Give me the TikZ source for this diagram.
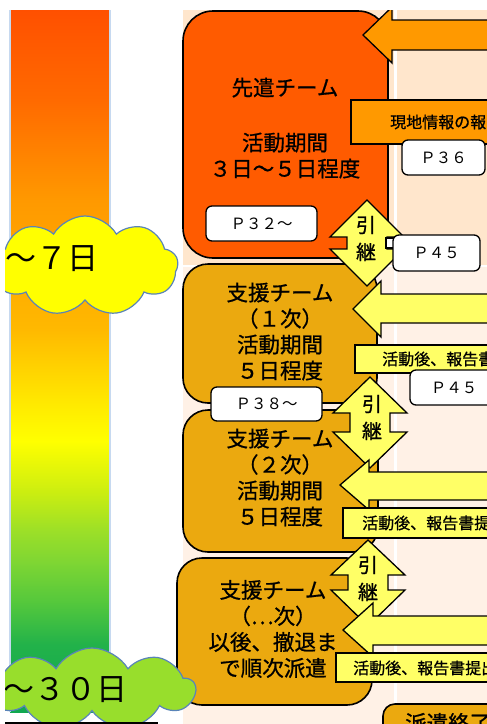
\documentclass[tikz,border=0pt]{standalone}
\usepackage{fontspec}
\setmainfont{Noto Sans CJK JP}
\newfontfamily\jpheavy{Noto Sans CJK JP}[FakeBold=0.8]
\usetikzlibrary{shapes.symbols}
\definecolor{peachtop}{HTML}{FFE6CC}
\definecolor{peachlow}{HTML}{FFF1E6}
\definecolor{redorange}{HTML}{FF5B00}
\definecolor{golden}{HTML}{EBA90F}
\definecolor{arroworange}{HTML}{FF9900}
\definecolor{paleyellow}{HTML}{FFFF66}
\definecolor{cloudyellow}{HTML}{FFFF00}
\definecolor{cloudgreen}{HTML}{98DE2C}
\definecolor{cloudedge}{HTML}{5A84B8}
\definecolor{baredge}{HTML}{C6D9F0}
\definecolor{gA}{HTML}{FF5000}
\definecolor{gB}{HTML}{FF6A00}
\definecolor{gC}{HTML}{FF9900}
\definecolor{gD}{HTML}{FFB800}
\definecolor{gE}{HTML}{FFE800}
\definecolor{gF}{HTML}{FFFF00}
\definecolor{gG}{HTML}{CCEE10}
\definecolor{gH}{HTML}{9BDF28}
\definecolor{gI}{HTML}{7FD633}
\definecolor{gJ}{HTML}{55C83C}
\definecolor{gK}{HTML}{22B24A}
\definecolor{gL}{HTML}{10A850}
\pgfdeclareverticalshading{timebar}{100bp}{color(0bp)=(gL); color(25bp)=(gL); color(29.79bp)=(gK); color(32.86bp)=(gJ); color(35.71bp)=(gI); color(37.86bp)=(gH); color(40.71bp)=(gG); color(44.29bp)=(gF); color(47.14bp)=(gE); color(52.36bp)=(gD); color(61.43bp)=(gC); color(68.57bp)=(gB); color(75bp)=(gA); color(100bp)=(gA)}
\begin{document}
\begin{tikzpicture}[x=1pt,y=-1pt,
  teambox/.style={draw=black, line width=1.6pt, inner sep=0pt, outer sep=0pt},
  teamtext/.style={align=center, font=\jpheavy\fontsize{21.5pt}{26pt}\selectfont, inner sep=0pt},
  pbox/.style={draw=black, fill=white, rounded corners=6pt, line width=1.3pt, inner sep=0pt, font=\fontsize{15.5pt}{18pt}\selectfont},
  blockarrow/.style={draw=black, line width=1.3pt, line join=miter},
  labelbox/.style={draw=black, line width=1.3pt},
  labeltext/.style={font=\jpheavy\fontsize{16pt}{18pt}\selectfont, anchor=west, inner sep=0pt},
  kanji/.style={align=center, font=\jpheavy\fontsize{20pt}{27pt}\selectfont, inner sep=0pt},
  cloudbox/.style={cloud, cloud puffs=9, cloud puff arc=120, draw=cloudedge, line width=1.2pt, inner sep=0pt},
  cloudtext/.style={font=\fontsize{31pt}{34pt}\selectfont, anchor=west, inner sep=0pt}
]
\useasboundingbox (0,0) rectangle (487,724);
\begin{scope}
\clip (5,10) rectangle (487,724);
% background panel
\fill[peachlow] (183,10) rectangle (487,724);
\fill[peachtop] (183,10) rectangle (487,266);
\draw[white, line width=1.2pt] (183,266) -- (487,266);
\draw[white, line width=3pt] (395,10) -- (395,724);
% time bar
\shade[shading=timebar] (10,10) rectangle (110,712);
\draw[baredge, line width=1.5pt] (10,10) -- (10,712) (110,10) -- (110,712);
% team boxes
\node[teambox, fill=redorange, rounded corners=30pt, minimum width=205pt, minimum height=247pt] (b1) at (285.5,134.5) {};
\node[teambox, fill=golden, rounded corners=25pt, minimum width=194pt, minimum height=139pt] (b2) at (280,333.5) {};
\node[teambox, fill=golden, rounded corners=25pt, minimum width=195pt, minimum height=142pt] (b3) at (280.5,481) {};
\node[teambox, fill=golden, rounded corners=25pt, minimum width=195pt, minimum height=147pt] (b4) at (274.5,631.5) {};
\node[teambox, fill=golden, rounded corners=12pt, minimum width=150pt, minimum height=60pt, anchor=north west] (b5) at (383,704) {};
\node[teamtext] (t1) at (285,128) {先遣チーム\\[29pt]活動期間\\３日～５日程度};
\node[teamtext] (t2) at (280,331.5) {支援チーム\\（１次）\\活動期間\\５日程度};
\node[teamtext] (t3) at (280,477.5) {支援チーム\\（２次）\\活動期間\\５日程度};
\node[teamtext] (t4) at (273,629) {支援チーム\\（…次）\\以後、撤退ま\\で順次派遣};
\node[teamtext, anchor=west] (t5) at (405,723) {派遣終了};
% page boxes on team boxes
\node[pbox, minimum width=111pt, minimum height=35pt] (p32) at (261.5,223.5) {Ｐ３２～};
\node[pbox, minimum width=111pt, minimum height=34pt] (p38) at (266.5,404) {Ｐ３８～};
% hand-over double arrows
\path[blockarrow, fill=paleyellow] (367,200) -- (404,237) -- (387,237) -- (387,249) -- (404,249) -- (367,286) -- (330,249) -- (347,249) -- (347,237) -- (330,237) -- cycle;
\path[blockarrow, fill=paleyellow] (370,377) -- (407,413) -- (390,413) -- (390,432) -- (407,432) -- (370,468) -- (333,432) -- (350,432) -- (350,413) -- (333,413) -- cycle;
\path[blockarrow, fill=paleyellow] (368,540) -- (405,575) -- (388,575) -- (388,590) -- (405,590) -- (368,626) -- (331,590) -- (348,590) -- (348,575) -- (331,575) -- cycle;
\node[kanji] (k1) at (366,238.5) {引\\継};
\node[kanji] (k2) at (372,417.5) {引\\継};
\node[kanji] (k3) at (368,578.5) {引\\継};
% incoming block arrows
\path[blockarrow, fill=arroworange] (363,35) -- (392,7) -- (392,20) -- (495,20) -- (495,50) -- (392,50) -- (392,63) -- cycle;
\path[blockarrow, fill=paleyellow] (353,309) -- (381,281) -- (381,294) -- (495,294) -- (495,323) -- (381,323) -- (381,337) -- cycle;
\path[blockarrow, fill=paleyellow] (340,485) -- (369,460) -- (369,472) -- (495,472) -- (495,500) -- (369,500) -- (369,510) -- cycle;
\path[blockarrow, fill=paleyellow] (343,630) -- (373,603) -- (373,616) -- (495,616) -- (495,645) -- (373,645) -- (373,657) -- cycle;
% label boxes
\path[labelbox, fill=arroworange] (351,100) rectangle (495,144);
\node[labeltext] (l1) at (390,122) {現地情報の報告};
\path[labelbox, fill=paleyellow] (355,345) rectangle (495,373);
\node[labeltext] (l2) at (382,359) {活動後、報告書提出};
\path[labelbox, fill=paleyellow] (343,508) rectangle (495,538);
\node[labeltext] (l3) at (362,523) {活動後、報告書提出};
\path[labelbox, fill=paleyellow] (336,653) rectangle (495,682);
\node[labeltext] (l4) at (353,668) {活動後、報告書提出};
% page boxes on the right
\node[pbox, minimum width=83pt, minimum height=35pt] (p36) at (443.5,157.5) {Ｐ３６};
\path[draw=black, fill=white, line width=1.1pt] (386,238) rectangle (394,248);
\node[pbox, minimum width=87pt, minimum height=36pt] (p45a) at (436.5,253) {Ｐ４５};
\node[pbox, minimum width=88pt, minimum height=35pt] (p45b) at (454,387.5) {Ｐ４５};
% clouds
\node[cloudbox, fill=cloudyellow, minimum width=186pt, minimum height=100pt] (c1) at (85,266) {};
\node[cloudtext] (c1t) at (5,259) {～７日};
\node[cloudbox, fill=cloudgreen, minimum width=206pt, minimum height=82pt] (c2) at (92,689) {};
\node[cloudtext] (c2t) at (3,690) {～３０日};
\path[draw=black, fill=white, line width=1.3pt] (4,723) rectangle (157,740);
\end{scope}
\end{tikzpicture}
\end{document}
